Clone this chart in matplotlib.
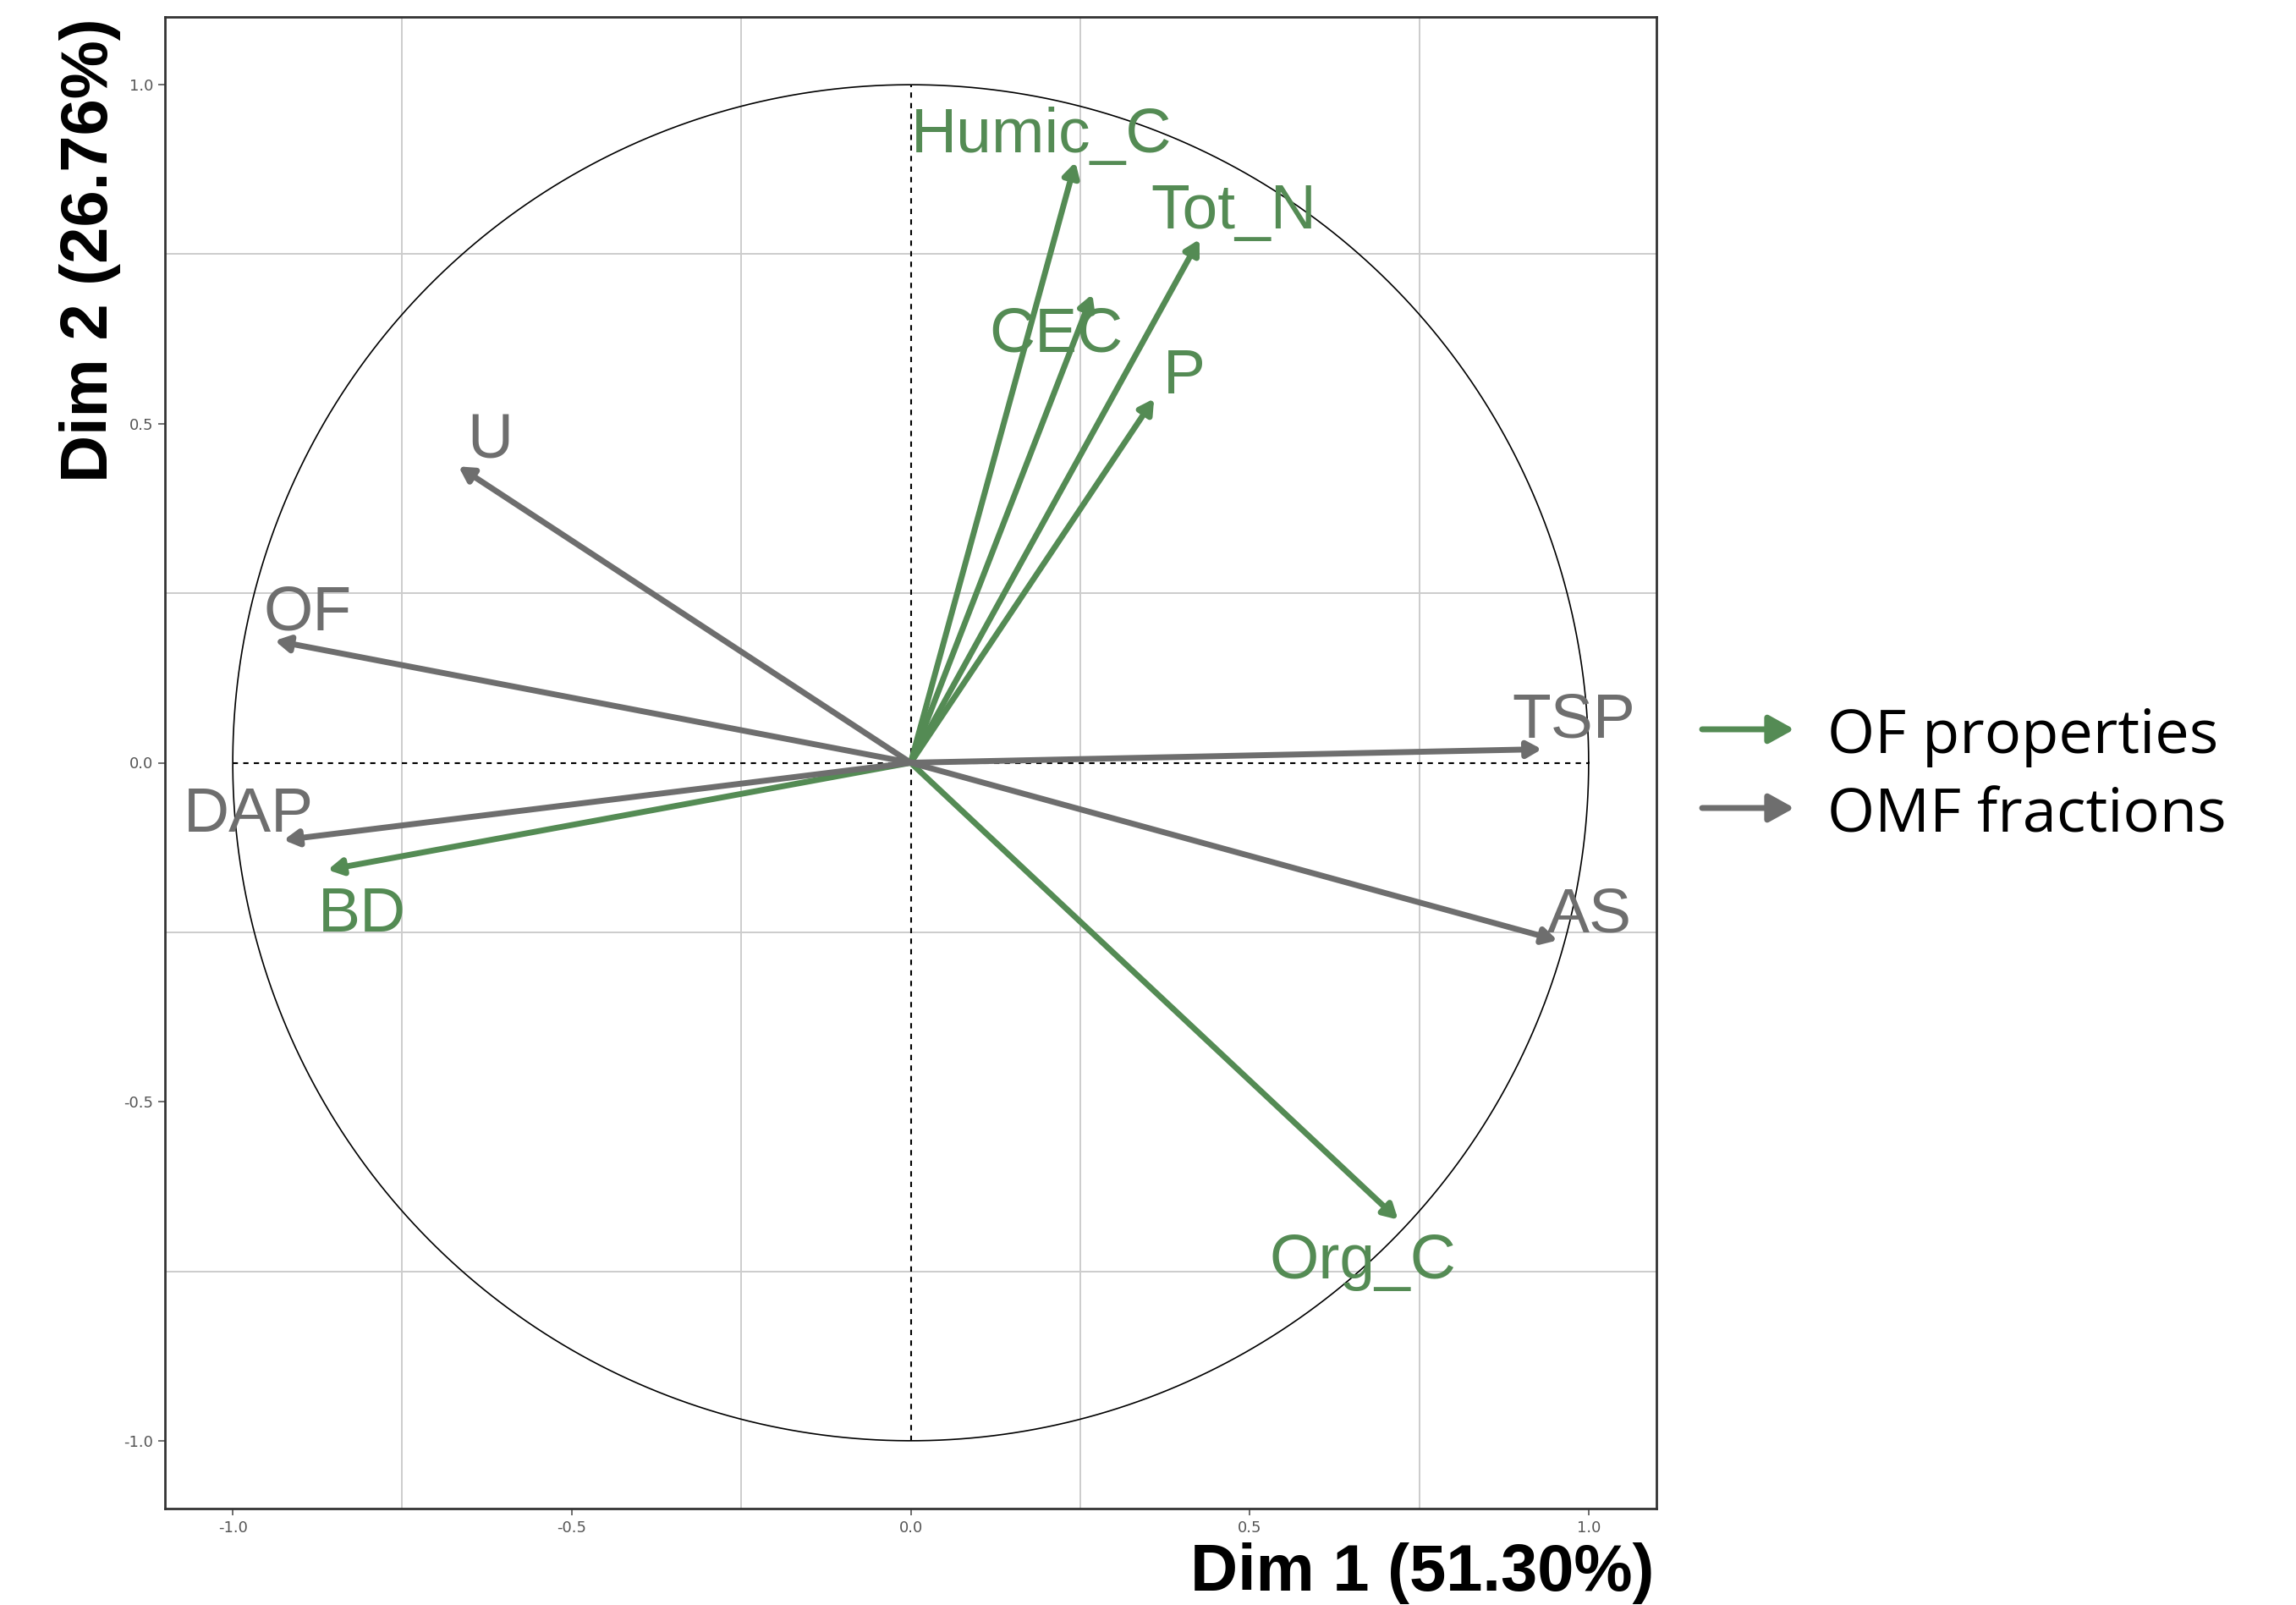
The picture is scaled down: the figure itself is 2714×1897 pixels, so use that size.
import matplotlib.pyplot as plt
import numpy as np

plt.rcParams['axes.unicode_minus'] = False

# PCA variable coordinates
of_names = ['Humic_C', 'Tot_N', 'CEC', 'P', 'BD', 'Org_C']
of_dim1 = [0.243, 0.426, 0.268, 0.359, -0.860, 0.719]
of_dim2 = [0.886, 0.772, 0.691, 0.537, -0.158, -0.674]

omf_names = ['U', 'OF', 'TSP', 'DAP', 'AS']
omf_dim1 = [-0.667, -0.938, 0.931, -0.925, 0.954]
omf_dim2 = [0.437, 0.180, 0.020, -0.114, -0.262]

dim1_label = 'Dim 1 (51.30%)'
dim2_label = 'Dim 2 (26.76%)'
legend_labels = ['OF properties', 'OMF fractions']
ticks = [-1.0, -0.5, 0.0, 0.5, 1.0]

GREEN = '#548B54'
GRAY = '#6E6E6E'

# label offsets from arrow tips (data units), baseline anchored
label_offsets = {
    'Humic_C': (-0.050, 0.014), 'Tot_N': (0.050, 0.016), 'CEC': (-0.054, -0.084),
    'P': (0.045, 0.008), 'BD': (0.051, -0.091), 'Org_C': (-0.052, -0.086),
    'U': (0.047, 0.012), 'OF': (0.049, 0.016), 'TSP': (0.047, 0.017),
    'DAP': (-0.051, 0.012), 'AS': (0.047, 0.013),
}

fig = plt.figure(figsize=(27.14, 18.97), dpi=100)
ax = fig.add_axes([195 / 2714, 1 - 1783 / 1897, 1763 / 2714, 1763 / 1897])

ax.set_xlim(-1.1, 1.1)
ax.set_ylim(-1.1, 1.1)
ax.set_xticks(ticks)
ax.set_yticks(ticks)
ax.set_xticklabels([f'{t:.1f}' for t in ticks])
ax.set_yticklabels([f'{t:.1f}' for t in ticks])
ax.set_xticks([-0.75, -0.25, 0.25, 0.75], minor=True)
ax.set_yticks([-0.75, -0.25, 0.25, 0.75], minor=True)
ax.grid(which='minor', color='#CCCCCC', linewidth=1.4)
ax.grid(which='major', visible=False)
ax.tick_params(which='minor', length=0)
ax.tick_params(which='major', length=6, width=1.2, color='#555555',
               labelsize=13, labelcolor='#555555', pad=4)
ax.set_axisbelow(True)
for sp in ax.spines.values():
    sp.set_linewidth(2)
    sp.set_color('#333333')

# correlation circle and reference lines
t = np.linspace(0, 2 * np.pi, 400)
ax.plot(np.cos(t), np.sin(t), color='black', lw=1.2, zorder=1)
ax.plot([-1, 1], [0, 0], color='black', lw=1.5, dashes=(3, 3), zorder=1)
ax.plot([0, 0], [-1, 1], color='black', lw=1.5, dashes=(3, 3), zorder=1)

arrow_style = '-|>,head_length=0.5,head_width=0.28'


def draw_group(names, d1, d2, color):
    for name, x, y in zip(names, d1, d2):
        ax.annotate('', xy=(x, y), xytext=(0, 0),
                    arrowprops=dict(arrowstyle=arrow_style, color=color, lw=5,
                                    shrinkA=0, shrinkB=0, mutation_scale=20),
                    zorder=3)
        dx, dy = label_offsets[name]
        ax.text(x + dx, y + dy, name, color=color, fontsize=54,
                family='Liberation Sans', ha='center', va='baseline', zorder=4)


draw_group(of_names, of_dim1, of_dim2, GREEN)
draw_group(omf_names, omf_dim1, omf_dim2, GRAY)

# axis titles
fig.text(1955 / 2714, 1 - 1880 / 1897, dim1_label, fontsize=56, fontweight='bold',
         family='Liberation Sans', ha='right', va='baseline')
fig.text(127 / 2714, 1 - 21 / 1897, dim2_label, fontsize=56, fontweight='bold',
         family='Liberation Sans', rotation=90, rotation_mode='anchor',
         ha='right', va='baseline')

# legend drawn at figure level
for i, (lab, col) in enumerate(zip(legend_labels, [GREEN, GRAY])):
    yc = 1 - (862 + 93 * i) / 1897
    fig.patches.append(plt.matplotlib.patches.FancyArrowPatch(
        (2012 / 2714, yc), (2121 / 2714, yc), transform=fig.transFigure,
        arrowstyle='-|>,head_length=0.9,head_width=0.5', color=col, lw=5,
        mutation_scale=20, shrinkA=0, shrinkB=0))
    fig.text(2160 / 2714, 1 - (890 + 93 * i) / 1897, lab, fontsize=52,
             family='Open Sans', ha='left', va='baseline')

fig.savefig('out.png', dpi=100)
